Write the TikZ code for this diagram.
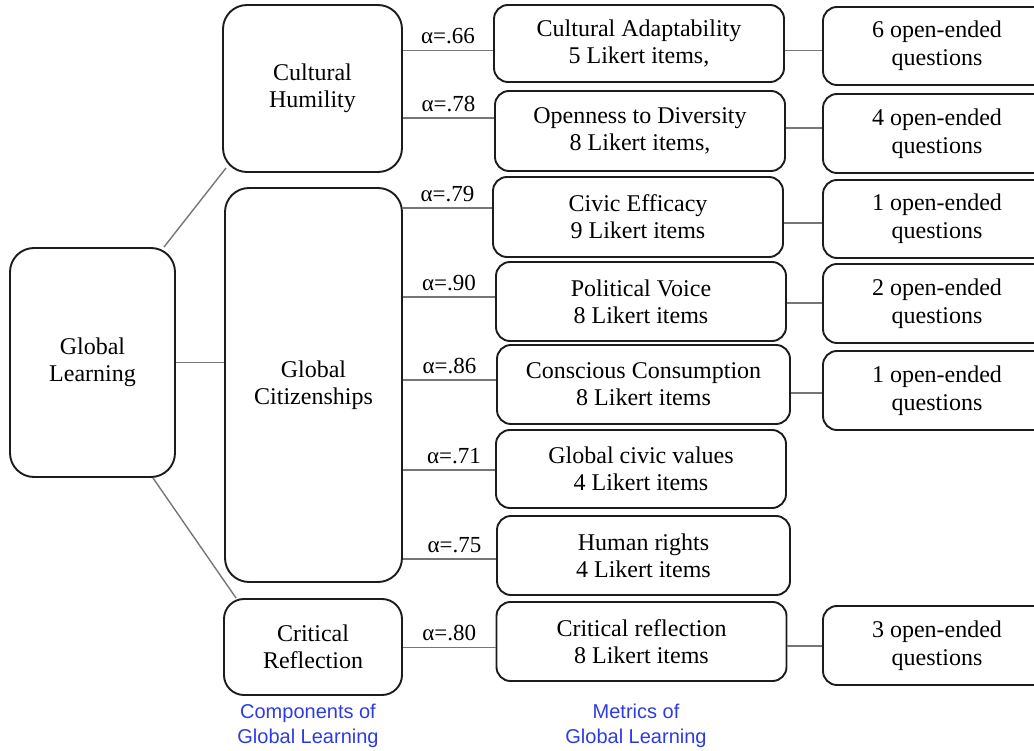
\documentclass[tikz,border=0pt]{standalone}
\usepackage{fontspec}
\setmainfont{Liberation Serif}
\newfontfamily\capsans{Liberation Sans}
\definecolor{edgec}{RGB}{28,28,28}
\definecolor{wire}{RGB}{118,118,118}
\definecolor{capblue}{RGB}{45,60,225}
\begin{document}
\begin{tikzpicture}[x=1pt,y=-1pt,
  bx/.style={draw=edgec, line width=1.9pt, align=center, inner sep=0pt, fill=white,
             font=\fontsize{24}{27}\selectfont},
  comp/.style={bx, rounded corners=24pt},
  metric/.style={bx, rounded corners=14pt, minimum width=290pt, minimum height=79pt},
  openq/.style={bx, rounded corners=14pt, minimum width=228pt, minimum height=79pt,
                font=\fontsize{24}{28}\selectfont},
  conn/.style={draw=wire, line width=1.4pt},
  alab/.style={above, inner sep=0pt, yshift=5.5pt, font=\fontsize{23}{23}\selectfont},
  caplab/.style={align=center, text=capblue, font=\capsans\fontsize{20}{25}\selectfont}]
\useasboundingbox (0,0) rectangle (1034,751);
\clip (0,0) rectangle (1034,751);

% components
\node[comp, minimum width=165pt, minimum height=229pt] (gl) at (92.5,362.5) {Global\\Learning};
\node[comp, minimum width=179pt, minimum height=167pt] (ch) at (312.5,88.5) {Cultural\\Humility};
\node[comp, minimum width=177pt, minimum height=394pt] (gc) at (313.5,385) {Global\\Citizenships};
\node[comp, rounded corners=20pt, minimum width=178pt, minimum height=96pt] (cr) at (313,647) {Critical\\Reflection};

% metrics
\node[metric, minimum height=77pt] (ca) at (639,43.5) {Cultural Adaptability\\5 Likert items,};
\node[metric, minimum height=80pt] (od) at (640,131) {Openness to Diversity\\8 Likert items,};
\node[metric, minimum height=80pt] (ce) at (638,217) {Civic Efficacy\\9 Likert items};
\node[metric] (pv) at (641,301.5) {Political Voice\\8 Likert items};
\node[metric, minimum width=293pt] (cc) at (643.5,384.5) {Conscious Consumption\\8 Likert items};
\node[metric, minimum height=78pt] (gv) at (641,469) {Global civic values\\4 Likert items};
\node[metric, minimum width=293pt] (hr) at (643.5,555.5) {Human rights\\4 Likert items};
\node[metric] (cm) at (641.5,641.5) {Critical reflection\\8 Likert items};

% open-ended
\node[openq, minimum height=78pt] (o1) at (937,46) {6 open-ended\\questions};
\node[openq] (o2) at (937,133.5) {4 open-ended\\questions};
\node[openq, minimum height=78pt] (o3) at (937,219) {1 open-ended\\questions};
\node[openq] (o4) at (937,303.5) {2 open-ended\\questions};
\node[openq] (o5) at (937,390.5) {1 open-ended\\questions};
\node[openq] (o6) at (937,645.5) {3 open-ended\\questions};

% tree connectors
\draw[conn] ([xshift=-12pt]gl.north east) -- ([xshift=4pt,yshift=5pt]ch.south west);
\draw[conn] (gl.east) -- (gc.west |- gl.east);
\draw[conn] ([xshift=-23pt]gl.south east) -- ([xshift=13pt]cr.north west);

% alpha connectors
\coordinate (ca-in) at ([yshift=-7pt]ca.west);
\coordinate (od-in) at ([yshift=13pt]od.west);
\coordinate (ce-in) at ([yshift=9pt]ce.west);
\coordinate (pv-in) at ([yshift=4.5pt]pv.west);
\coordinate (cc-in) at ([yshift=4.5pt]cc.west);
\coordinate (gv-in) at ([yshift=-1pt]gv.west);
\coordinate (hr-in) at ([yshift=-3.5pt]hr.west);
\coordinate (cm-in) at ([yshift=-6pt]cm.west);
\draw[conn] (ch.east |- ca-in) -- node[alab]{α=.66} (ca-in);
\draw[conn] (ch.east |- od-in) -- node[alab]{α=.78} (od-in);
\draw[conn] (gc.east |- ce-in) -- node[alab]{α=.79} (ce-in);
\draw[conn] (gc.east |- pv-in) -- node[alab]{α=.90} (pv-in);
\draw[conn] (gc.east |- cc-in) -- node[alab]{α=.86} (cc-in);
\draw[conn] (gc.east |- gv-in) -- node[alab, xshift=5pt]{α=.71} (gv-in);
\draw[conn] (gc.east |- hr-in) -- node[alab, xshift=5pt]{α=.75} (hr-in);
\draw[conn] (cr.east |- cm-in) -- node[alab]{α=.80} (cm-in);

% metric to open-ended connectors
\coordinate (ca-out) at ([yshift=-7pt]ca.east);
\coordinate (od-out) at ([yshift=3pt]od.east);
\coordinate (ce-out) at ([yshift=-6pt]ce.east);
\coordinate (pv-out) at ([yshift=-1.5pt]pv.east);
\coordinate (cc-out) at ([yshift=-8.5pt]cc.east);
\coordinate (cm-out) at ([yshift=-4.5pt]cm.east);
\draw[conn] (ca-out) -- (o1.west |- ca-out);
\draw[conn] (od-out) -- (o2.west |- od-out);
\draw[conn] (ce-out) -- (o3.west |- ce-out);
\draw[conn] (pv-out) -- (o4.west |- pv-out);
\draw[conn] (cc-out) -- (o5.west |- cc-out);
\draw[conn] (cm-out) -- (o6.west |- cm-out);

% captions
\node[caplab] (capc) at (308,726) {Components of\\Global Learning};
\node[caplab] (capm) at (636,726) {Metrics of\\Global Learning};
\end{tikzpicture}
\end{document}
